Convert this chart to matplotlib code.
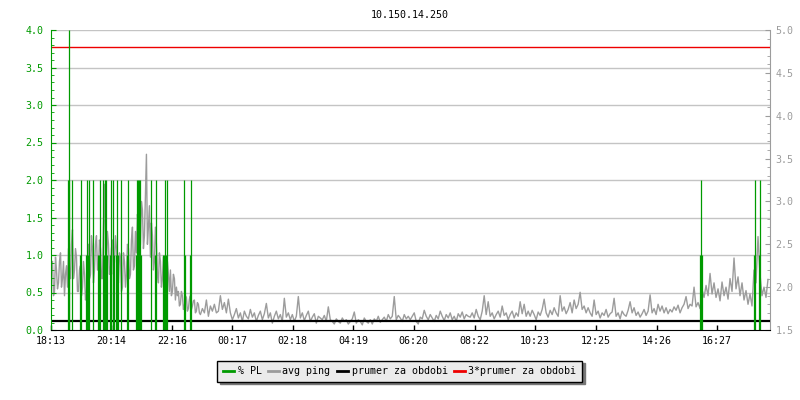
import matplotlib
matplotlib.use("Agg")
import matplotlib.pyplot as plt
from matplotlib.lines import Line2D
import numpy as np

plt.rcParams['font.family'] = ['DejaVu Sans Mono']
plt.rcParams['font.size'] = 7.2

title = "10.150.14.250"
tick_labels = ['18:13', '20:14', '22:16', '00:17', '02:18', '04:19',
               '06:20', '08:22', '10:23', '12:25', '14:26', '16:27']

# avg ping (right axis). first 5 hours sampled every 2 min, the rest every 4 min
ping_early = [
    2.0, 2.25, 2.3, 1.9, 1.95, 2.35, 2.2, 1.98, 2.05, 2.3, 2.4, 2.0, 2.1, 2.3, 1.9, 2.15, 2.25, 2.0, 2.45, 2.2,
    2.1, 2.5, 2.67, 2.1, 2.2, 2.45, 2.35, 1.95, 1.95, 2.2, 2.25, 1.9, 2.0, 2.3, 2.15, 1.85, 1.9, 2.35, 2.5, 2.1,
    2.15, 2.6, 2.45, 2.05, 2.2, 2.5, 2.6, 2.2, 2.2, 2.55, 2.45, 2.1, 2.1, 2.7, 3.2, 2.4, 2.3, 2.65, 2.5, 2.15,
    2.2, 2.45, 2.55, 2.15, 2.3, 2.6, 2.45, 2.1, 2.05, 2.4, 2.35, 1.95, 2.0, 2.4, 2.3, 2.0, 2.15, 2.5, 2.45, 2.1,
    2.15, 2.55, 2.7, 2.2, 2.25, 2.65, 2.4, 2.85, 2.7, 2.4, 2.5, 3.0, 2.9, 2.45, 2.6, 3.1, 3.55, 2.5, 2.7, 2.95,
    2.35, 2.75, 2.6, 2.2, 2.3, 2.7, 2.5, 2.15, 2.05, 2.4, 2.3, 2.0, 2.1, 2.35, 2.25, 1.95, 2.0, 2.3, 2.15, 1.95,
    2.2, 1.9, 1.95, 2.15, 2.1, 1.85, 2.0, 1.9, 1.95, 1.78, 1.8, 1.95, 1.9, 1.74, 1.78, 1.9, 1.88, 1.72, 1.75, 1.86,
    1.9, 1.74, 1.78, 1.84, 1.85, 1.7, 1.72, 1.82, 1.8, 1.7,
]
ping_late = [
    1.68, 1.75, 1.7, 1.85, 1.66, 1.78, 1.72, 1.8, 1.7, 1.72, 1.9, 1.74, 1.82, 1.7, 1.86,
    1.7, 1.62, 1.68, 1.75, 1.64, 1.7, 1.6, 1.72, 1.66, 1.63, 1.74, 1.65, 1.7, 1.6, 1.67,
    1.72, 1.62, 1.69, 1.81, 1.64, 1.7, 1.58, 1.66, 1.72, 1.63, 1.68, 1.6, 1.87, 1.65, 1.7,
    1.62, 1.68, 1.6, 1.66, 1.89, 1.64, 1.7, 1.61, 1.67, 1.72, 1.6, 1.65, 1.69, 1.58, 1.66,
    1.64, 1.62, 1.67, 1.6, 1.77, 1.62, 1.6, 1.57, 1.63, 1.6, 1.58, 1.64, 1.6, 1.62, 1.57,
    1.6, 1.63, 1.71, 1.58, 1.62, 1.6, 1.56, 1.64, 1.6, 1.58, 1.62, 1.57, 1.63, 1.6, 1.66,
    1.59, 1.62, 1.65, 1.6, 1.68, 1.63, 1.66, 1.89, 1.62, 1.67, 1.64, 1.6, 1.68, 1.63, 1.66,
    1.62, 1.66, 1.7, 1.6, 1.57, 1.65, 1.63, 1.73, 1.66, 1.62, 1.68, 1.64, 1.6, 1.67, 1.63,
    1.72, 1.66, 1.61, 1.68, 1.64, 1.7, 1.62, 1.66, 1.6, 1.69, 1.65, 1.71, 1.63, 1.68, 1.66,
    1.65, 1.7, 1.64, 1.74, 1.66, 1.62, 1.72, 1.9, 1.68, 1.83, 1.66, 1.7, 1.63, 1.68, 1.72,
    1.65, 1.78, 1.67, 1.7, 1.62, 1.68, 1.72, 1.64, 1.7, 1.66, 1.83, 1.69, 1.8, 1.66, 1.72,
    1.66, 1.73, 1.68, 1.62, 1.71, 1.67, 1.74, 1.86, 1.7, 1.65, 1.73, 1.68, 1.76, 1.7, 1.66,
    1.9, 1.72, 1.77, 1.69, 1.74, 1.82, 1.7, 1.85, 1.75, 1.8, 1.94, 1.74, 1.78, 1.7, 1.76,
    1.7, 1.66, 1.85, 1.68, 1.72, 1.64, 1.7, 1.67, 1.74, 1.65, 1.69, 1.71, 1.87, 1.66, 1.7,
    1.63, 1.72, 1.68, 1.66, 1.73, 1.83, 1.7, 1.76, 1.67, 1.71, 1.65, 1.69, 1.74, 1.67, 1.72,
    1.91, 1.7, 1.75, 1.68, 1.8, 1.72, 1.78, 1.7, 1.76, 1.69, 1.74, 1.71, 1.77, 1.73, 1.79,
    1.7, 1.76, 1.8, 1.89, 1.75, 1.8, 1.78, 2.0, 1.77, 1.82, 1.75, 1.97, 1.88, 2.02, 1.9,
    2.16, 1.92, 2.05, 1.88, 1.98, 1.84, 2.06, 1.9, 2.0, 1.86, 2.1, 1.95, 2.34, 1.98, 2.12,
    1.9, 2.05, 1.85, 1.96, 1.8, 1.92, 1.78, 2.2, 2.05, 2.59, 2.15, 1.9, 2.0, 1.88, 2.09,
]
ping_avg = 1.6

# packet loss (left axis): minute after 18:13 and % lost
pl_minutes = [36, 37, 38, 44, 60, 62, 72, 74, 76, 78, 86, 96, 98, 100, 106, 108, 110,
              112, 114, 120, 121, 122, 126, 128, 132, 134, 136, 142, 154, 156, 172, 174,
              176, 178, 180, 182, 202, 210, 212, 226, 228, 230, 232, 234, 268, 270, 280,
              282, 1300, 1302, 1304, 1408, 1410, 1418, 1420]
pl_values = [2, 2, 4, 2, 1, 2, 1, 2, 1, 2, 2, 1, 1, 2, 2, 1, 2,
             2, 1, 1, 2, 1, 2, 1, 1, 2, 1, 2, 1, 2, 1, 2,
             2, 2, 2, 1, 2, 1, 2, 1, 1, 2, 1, 2, 2, 1, 1,
             2, 1, 2, 1, 1, 2, 1, 2]

green = '#009a00'
gray = '#9c9c9c'
grid_c = '#c4c4c4'

fig = plt.figure(figsize=(8, 4), dpi=100, facecolor='white')
ax = fig.add_axes([50.5 / 800, 70 / 400, 719.5 / 800, 300 / 400])
ax2 = ax.twinx()
ax.set_zorder(ax2.get_zorder() + 1)
ax.patch.set_visible(False)

ax.set_xlim(0, 1440)
ax.set_ylim(0, 4)
ax2.set_ylim(1.5, 5.0)

# grid drawn on the ping axes at the left-axis major steps
left_major = np.arange(0.5, 4.01, 0.5)
for v in left_major:
    ax2.axhline(1.5 + v * 3.5 / 4, color=grid_c, lw=1, zorder=0.5)

ping_x = np.concatenate([np.arange(len(ping_early)) * 2,
                         300 + np.arange(len(ping_late)) * 4])
ping_y = ping_early + ping_late
ax2.plot(ping_x, ping_y, color=gray, lw=1.0, zorder=2)
ax2.axhline(ping_avg, color='black', lw=1.6, zorder=3)
ax2.axhline(3 * ping_avg, color='#ee0000', lw=1, zorder=3)

ax.vlines(pl_minutes, 0, pl_values, color=green, lw=0.9)

# x ticks
def mins(lbl):
    h, m = map(int, lbl.split(':'))
    return ((h * 60 + m) - (18 * 60 + 13)) % 1440

ax.set_xticks([mins(t) for t in tick_labels])
ax.set_xticklabels(tick_labels)
ax.tick_params(axis='x', direction='in', length=3.6, width=1, colors='black', pad=4)

ax.set_yticks(np.arange(0, 4.01, 0.5))
ax.set_yticks(np.arange(0, 4.01, 0.1), minor=True)
ax.yaxis.set_major_formatter(plt.FormatStrFormatter('%.1f'))
ax.tick_params(axis='y', which='major', direction='in', length=3.6, color=green,
               labelcolor=green, pad=5)
ax.tick_params(axis='y', which='minor', direction='in', length=2, color=green)

ax2.set_yticks(np.arange(1.5, 5.01, 0.5))
ax2.set_yticks(np.arange(1.5, 5.01, 0.1), minor=True)
ax2.yaxis.set_major_formatter(plt.FormatStrFormatter('%.1f'))
ax2.tick_params(axis='y', which='major', direction='in', length=3.6, color=gray,
                labelcolor=gray, pad=4)
ax2.tick_params(axis='y', which='minor', direction='in', length=2, color=gray)

for a in (ax, ax2):
    a.spines['top'].set_visible(False)
ax.spines['right'].set_visible(False)
ax2.spines['left'].set_visible(False)
ax.spines['left'].set_color(green)
ax2.spines['right'].set_color(gray)
ax2.spines['bottom'].set_visible(False)
ax.spines['bottom'].set_color('black')

ax.set_title(title, pad=9, fontsize=7.2)

handles = [Line2D([], [], color=green, lw=2),
           Line2D([], [], color=gray, lw=2),
           Line2D([], [], color='black', lw=2),
           Line2D([], [], color='#ee0000', lw=2)]
labels = ['% PL', 'avg ping', 'prumer za obdobi', '3*prumer za obdobi']
leg = fig.legend(handles, labels, loc='center', bbox_to_anchor=(399.5 / 800, 1 - 371 / 400),
                 ncol=4, handlelength=1.1, handletextpad=0.4, columnspacing=0.6,
                 borderpad=0.55, fancybox=False, edgecolor='black', facecolor='#ebebeb',
                 framealpha=1, shadow={'color': '#777777', 'alpha': 1})
leg.get_frame().set_linewidth(1)

fig.savefig('out.png', dpi=100, facecolor='white')
